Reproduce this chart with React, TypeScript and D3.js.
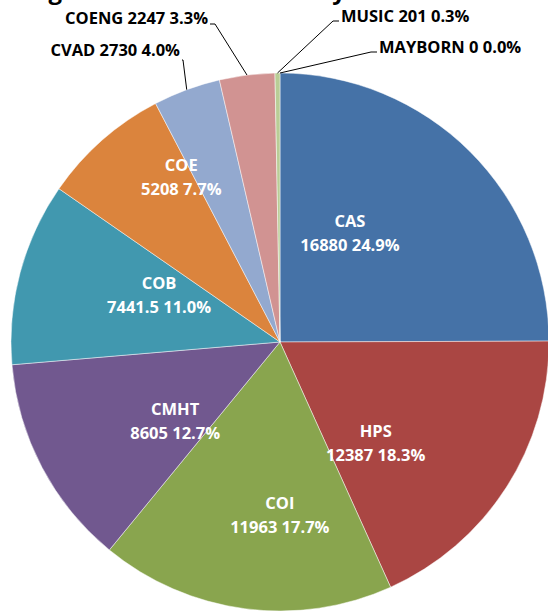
import React from 'react';
import * as d3 from 'd3';

// College totals, clockwise from 12 o'clock
const colleges = ['CAS', 'HPS', 'COI', 'CMHT', 'COB', 'COE', 'CVAD', 'COENG', 'MUSIC', 'MAYBORN'];
const hours = [16880, 12387, 11963, 8605, 7441.5, 5208, 2730, 2247, 201, 0];
const colors = ['#4572a7', '#aa4643', '#89a54e', '#71588f', '#4198af', '#db843d', '#93a9cf', '#d19392', '#b9cd96', '#a99bbd'];
const outside = ['CVAD', 'COENG', 'MUSIC', 'MAYBORN'];

const width = 548;
const height = 612;
const cx = 280;
const cy = 342;
const radius = 269;
const font = '"Open Sans", "DejaVu Sans", sans-serif';

// nudges for the inside labels (Excel "best fit" isn't the plain centroid)
const insideNudge: Record<string, [number, number]> = {
    CAS: [-44, 5],
    HPS: [-40, 14],
    COI: [21, 13],
    CMHT: [38, 4],
    COB: [35, -5],
    COE: [8, -44],
};

// outside label boxes: text anchor point + elbow of the leader line
const outsideLayout: Record<string, { x: number; y: number; anchor: 'start' | 'end'; ex: number; ey: number }> = {
    CVAD: { x: 180, y: 56, anchor: 'end', ex: 183, ey: 60 },
    COENG: { x: 208, y: 24, anchor: 'end', ex: 215, ey: 24 },
    MUSIC: { x: 341, y: 22, anchor: 'start', ex: 333, ey: 21 },
    MAYBORN: { x: 379, y: 53, anchor: 'start', ex: 371, ey: 52 },
};

export default function App() {
    const total = d3.sum(hours);
    const data = colleges.map((name, i) => ({ name, value: hours[i], color: colors[i] }));

    const pie = d3.pie<{ name: string; value: number; color: string }>()
        .sort(null)
        .value(d => d.value);
    const arcs = pie(data);

    const arc = d3.arc<d3.PieArcDatum<{ name: string; value: number; color: string }>>()
        .innerRadius(0)
        .outerRadius(radius);
    const labelArc = d3.arc<d3.PieArcDatum<{ name: string; value: number; color: string }>>()
        .innerRadius(radius * 0.6)
        .outerRadius(radius * 0.6);
    const edgeArc = d3.arc<d3.PieArcDatum<{ name: string; value: number; color: string }>>()
        .innerRadius(radius)
        .outerRadius(radius);

    const pct = d3.format('.1%');

    return (
        <div style={{ position: 'absolute', left: 0, top: 0 }}>
            <svg width={width} height={height} style={{ display: 'block' }}>
                <rect width={width} height={height} fill="#fff" />
                {/* title sits above the crop, only descenders show */}
                <text x={0} y={-1} fontFamily={font} fontWeight={700} fontSize={24} fill="#000"
                    textLength={346} lengthAdjust="spacing">
                    Budget Allocation Summary
                </text>
                <g transform={`translate(${cx},${cy})`}>
                    {arcs.map(a => (
                        <path
                            key={a.data.name}
                            d={arc(a) || ''}
                            fill={a.data.color}
                            stroke={a.data.value > 0 ? '#fff' : 'none'}
                            strokeOpacity={0.6}
                            strokeWidth={0.8}
                        />
                    ))}
                    {arcs.filter(a => !outside.includes(a.data.name)).map(a => {
                        const [x, y] = labelArc.centroid(a);
                        const [nx, ny] = insideNudge[a.data.name] || [0, 0];
                        return (
                            <text
                                key={a.data.name}
                                x={x + nx}
                                y={y + ny}
                                textAnchor="middle"
                                fontFamily={font}
                                fontWeight={700}
                                fontSize={16.5}
                                fill="#fff"
                            >
                                <tspan x={x + nx} dy={-6}>{a.data.name}</tspan>
                                <tspan x={x + nx} dy={24}>{`${a.data.value} ${pct(a.data.value / total)}`}</tspan>
                            </text>
                        );
                    })}
                </g>
                {arcs.filter(a => outside.includes(a.data.name)).map(a => {
                    const L = outsideLayout[a.data.name];
                    const [px, py] = edgeArc.centroid(a);
                    const tip = L.anchor === 'end' ? L.x + 2 : L.x - 2;
                    const pts: [number, number][] = [[px + cx, py + cy], [L.ex, L.ey], [tip, L.ey]];
                    return (
                        <g key={a.data.name}>
                            <path d={d3.line()(pts) || ''} fill="none" stroke="#000" strokeWidth={1} />
                            <text
                                x={L.x}
                                y={L.y}
                                textAnchor={L.anchor}
                                fontFamily={font}
                                fontWeight={700}
                                fontSize={16.5}
                                fill="#000"
                            >
                                {`${a.data.name} ${a.data.value} ${pct(a.data.value / total)}`}
                            </text>
                        </g>
                    );
                })}
            </svg>
        </div>
    );
}
